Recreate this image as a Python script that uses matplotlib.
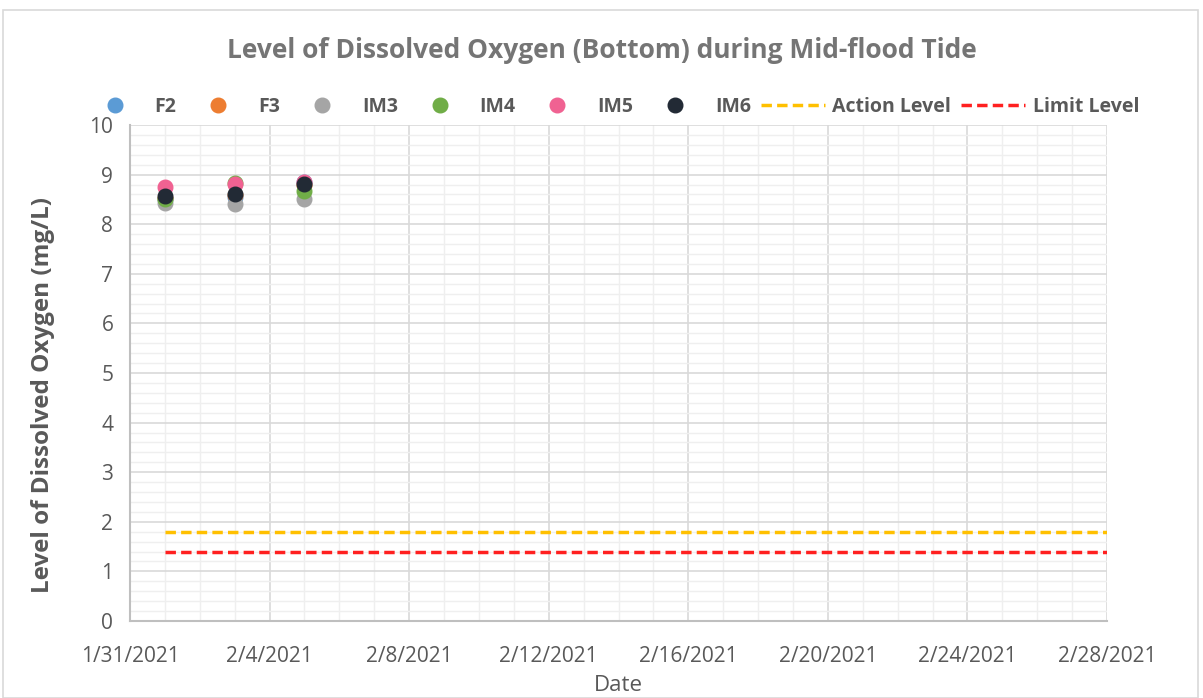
import numpy as np
import matplotlib.pyplot as plt
import matplotlib.dates as mdates
from matplotlib.patches import Rectangle
from datetime import date

# Datos
fechas = [date(2021, 2, 1), date(2021, 2, 3), date(2021, 2, 5)]
f2 = [8.50, 8.55, 8.85]
f3 = [8.52, 8.58, 8.80]
im3 = [8.42, 8.40, 8.50]
im4 = [8.50, 8.83, 8.67]
im5 = [8.74, 8.82, 8.85]
im6 = [8.56, 8.60, 8.81]
linea_fechas = [date(2021, 2, 1), date(2021, 2, 28)]
action_level = 1.8
limit_level = 1.4

series = [("F2", f2, "#5b9bd5"), ("F3", f3, "#ed7d31"), ("IM3", im3, "#a5a5a5"),
          ("IM4", im4, "#70ad47"), ("IM5", im5, "#f06292"), ("IM6", im6, "#222a35")]

plt.rcParams['font.family'] = ['Open Sans', 'DejaVu Sans']
gris = "#595959"

fig = plt.figure(figsize=(12.03, 6.98), dpi=100)
ax = fig.add_axes([130 / 1203, 1 - 621 / 698, (1107 - 130) / 1203, (621 - 125) / 698])

for nombre, vals, col in series:
    ax.plot(fechas, vals, 'o', color=col, markersize=10.5, label=nombre, zorder=3)
ax.plot(linea_fechas, [action_level] * 2, '--', color="#ffc000", lw=2.5, dashes=(3, 1.5), label="Action Level", zorder=2)
ax.plot(linea_fechas, [limit_level] * 2, '--', color="#ff2020", lw=2.5, dashes=(3, 1.5), label="Limit Level", zorder=2)

ax.set_xlim(date(2021, 1, 31), date(2021, 2, 28))
ax.set_ylim(0, 10)
ax.xaxis.set_major_locator(mdates.DayLocator(bymonthday=[31, 4, 8, 12, 16, 20, 24, 28]))
ax.xaxis.set_major_formatter(plt.FuncFormatter(
    lambda v, p: (lambda d: f"{d.month}/{d.day}/{d.year}")(mdates.num2date(v))))
ax.xaxis.set_minor_locator(mdates.DayLocator())
ax.set_yticks(np.arange(0, 11, 1))
ax.set_yticks(np.arange(0, 10.01, 0.2), minor=True)

ax.grid(which='major', color="#d9d9d9", lw=1.2, zorder=0)
ax.grid(which='minor', color="#efefef", lw=1.0, zorder=0)
ax.set_axisbelow(True)
for s in ['top', 'right']:
    ax.spines[s].set_visible(False)
for s in ['left', 'bottom']:
    ax.spines[s].set_color("#bfbfbf")
    ax.spines[s].set_linewidth(1.5)
ax.tick_params(which='both', length=0, labelsize=15, colors=gris)
ax.tick_params(axis='x', pad=18)
ax.tick_params(axis='y', pad=12)

ax.set_xlabel("Date", fontsize=16, color=gris, labelpad=6)
ax.set_ylabel("Level of Dissolved Oxygen (mg/L)", fontsize=17.5, fontweight='bold', color=gris)
ax.yaxis.set_label_coords(-75 / 977, 0.455)
fig.text(0.5, 1 - 50 / 698, "Level of Dissolved Oxygen (Bottom) during Mid-flood Tide",
         ha='center', va='center', fontsize=19, fontweight='bold', color="#757575")

leg = fig.legend(loc='center', bbox_to_anchor=(0.508, 1 - 107 / 698), ncol=8, frameon=False,
                 handlelength=3.3, columnspacing=0.5, handletextpad=0.4,
                 prop={'size': 14, 'weight': 'bold'})
for t in leg.get_texts():
    t.set_color(gris)

fig.patches.append(Rectangle((3 / 1203, 0), 1195 / 1203, 1 - 10 / 698, transform=fig.transFigure,
                             fill=False, edgecolor="#d9d9d9", lw=1.2))

plt.savefig("out.png", dpi=100)
